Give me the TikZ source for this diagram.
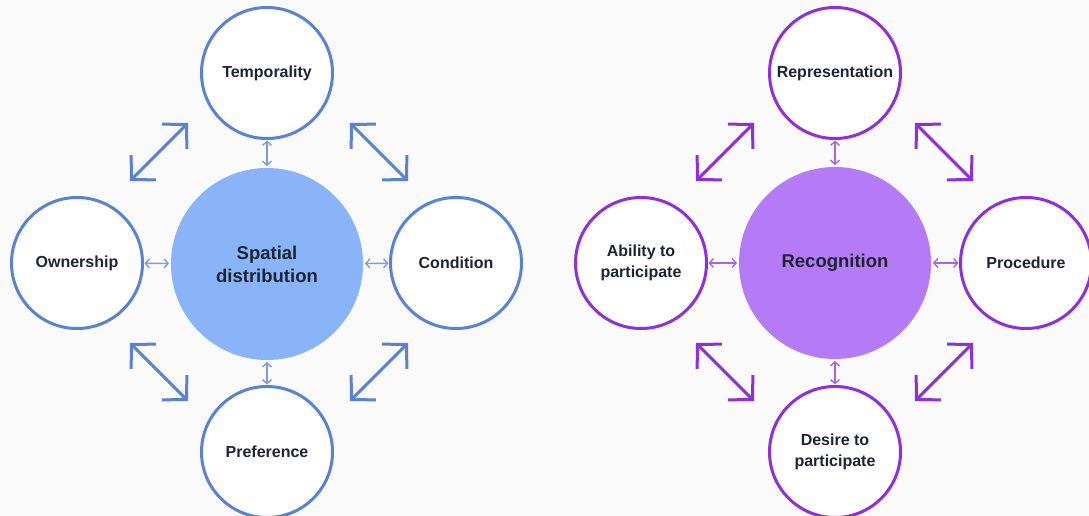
\documentclass[tikz,border=0pt]{standalone}
\usepackage{fontspec}
\setmainfont{Liberation Sans}
\usetikzlibrary{arrows.meta}
\definecolor{bgc}{HTML}{FAFAFA}
\definecolor{blueline}{HTML}{5A82D4}
\definecolor{bluefill}{HTML}{8AB4F8}
\definecolor{bluesmall}{HTML}{7C9CDA}
\definecolor{purpline}{HTML}{8E2FDB}
\definecolor{purpfill}{HTML}{B57BF6}
\definecolor{purpsmall}{HTML}{A566E3}
\definecolor{txt}{HTML}{1C2433}
\tikzset{
  x=1pt,y=-1pt,
  outer/.style={circle,draw=#1,line width=3pt,fill=white,minimum size=131pt,inner sep=0pt,outer sep=0pt,
    font=\bfseries\fontsize{16}{21.5}\selectfont,text=txt,align=center},
  hub/.style={circle,fill=#1,minimum size=192pt,inner sep=0pt,outer sep=0pt,
    font=\bfseries\fontsize{18.5}{23}\selectfont,text=txt,align=center},
  smallarr/.style={draw=#1,line width=1.4pt,{Straight Barb[length=4pt,width=9pt]}-{Straight Barb[length=4pt,width=9pt]},shorten <=2pt,shorten >=2pt},
  bigarr/.style={draw=#1,line width=3pt,{Straight Barb[length=17pt,width=35pt,line cap=butt]}-{Straight Barb[length=17pt,width=35pt,line cap=butt]}}
}
\begin{document}
\begin{tikzpicture}
\useasboundingbox (0,0) rectangle (1089,516);
\fill[bgc] (0,0) rectangle (1089,516);

% ---------- left group ----------
\node[hub=bluefill] (sd) at (267,264) {Spatial\\distribution};
\node[outer=blueline] (temp) at (267,73) {Temporality};
\node[outer=blueline] (own) at (77,263) {Ownership};
\node[outer=blueline] (cond) at (456,263) {Condition};
\node[outer=blueline] (pref) at (267,452) {Preference};

\draw[smallarr=bluesmall] (temp) -- (sd);
\draw[smallarr=bluesmall] (own) -- (sd);
\draw[smallarr=bluesmall] (cond) -- (sd);
\draw[smallarr=bluesmall] (pref) -- (sd);

\coordinate (l1a) at (130,181); \coordinate (l1b) at (188,123);
\coordinate (l2a) at (350,123); \coordinate (l2b) at (408,181);
\coordinate (l3a) at (130,343); \coordinate (l3b) at (188,401);
\coordinate (l4a) at (408,343); \coordinate (l4b) at (350,401);
\draw[bigarr=blueline] (l1a) -- (l1b);
\draw[bigarr=blueline] (l2a) -- (l2b);
\draw[bigarr=blueline] (l3a) -- (l3b);
\draw[bigarr=blueline] (l4a) -- (l4b);

% ---------- right group ----------
\node[hub=purpfill] (rec) at (835,263) {Recognition};
\node[outer=purpline] (repr) at (835,73) {Representation};
\node[outer=purpline] (abil) at (641,263) {Ability to\\participate};
\node[outer=purpline] (proc) at (1026,263) {Procedure};
\node[outer=purpline] (des) at (835,452) {Desire to\\participate};

\draw[smallarr=purpsmall] (repr) -- (rec);
\draw[smallarr=purpsmall] (abil) -- (rec);
\draw[smallarr=purpsmall] (proc) -- (rec);
\draw[smallarr=purpsmall] (des) -- (rec);

\coordinate (r1a) at (696,181); \coordinate (r1b) at (754,123);
\coordinate (r2a) at (915,123); \coordinate (r2b) at (973,181);
\coordinate (r3a) at (696,343); \coordinate (r3b) at (754,401);
\coordinate (r4a) at (973,343); \coordinate (r4b) at (915,401);
\draw[bigarr=purpline] (r1a) -- (r1b);
\draw[bigarr=purpline] (r2a) -- (r2b);
\draw[bigarr=purpline] (r3a) -- (r3b);
\draw[bigarr=purpline] (r4a) -- (r4b);
\end{tikzpicture}
\end{document}
